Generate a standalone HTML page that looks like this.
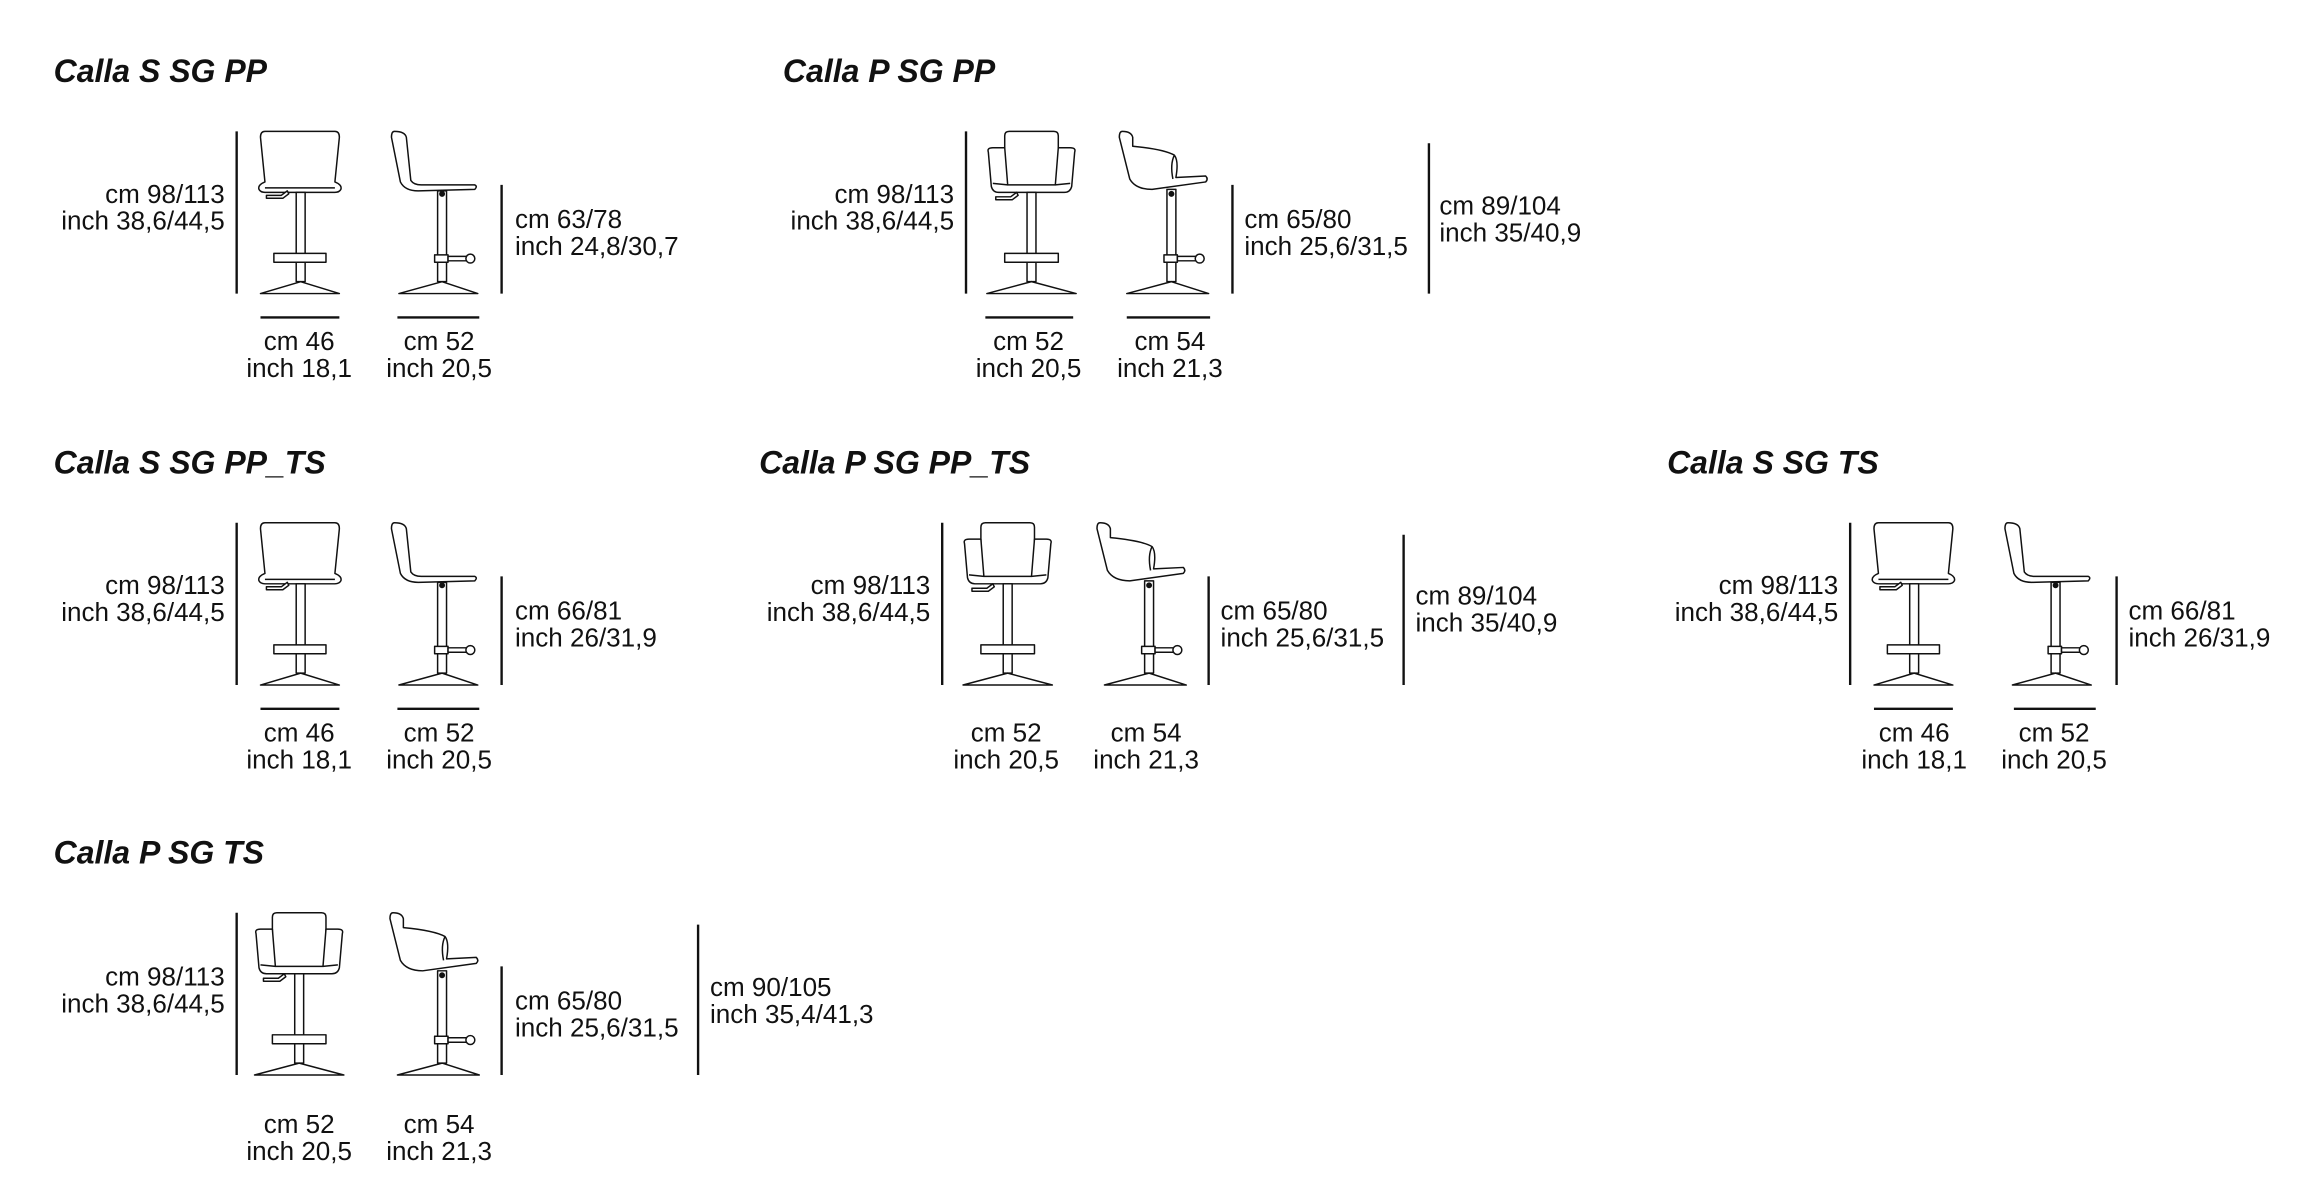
<!DOCTYPE html>
<html><head><meta charset="utf-8">
<style>
html,body{margin:0;padding:0;background:#fff;}
svg{display:block}
.t{font-family:"Liberation Sans",sans-serif;font-weight:bold;font-style:italic;font-size:21.5px;fill:#111}
.l{font-family:"Liberation Sans",sans-serif;font-size:17.5px;fill:#111}
.r{text-anchor:end}.c{text-anchor:middle}
.d{stroke:#111;stroke-width:1.6;fill:none}
.ch{stroke:#111;stroke-width:1;fill:#fff;stroke-linejoin:round}
</style></head><body>
<svg width="2322" height="1184" viewBox="0 0 1560 795" xmlns="http://www.w3.org/2000/svg">
<defs>
<g id="fs" class="ch">
  <path d="M3,0 L50,0 Q53,0 53,4 L50,34 Q55,36 54,39 Q53,41 50,41 L3,41 Q0,41 -1,39 Q-2,36 3,34 L0,4 Q0,0 3,0 Z"/>
  <path d="M3,38 L50,38"/>
  <rect x="24" y="41" width="6" height="60"/>
  <path d="M4,43 L14,43 L18,40 L19,42 L15,45 L4,45 Z"/>
  <rect x="9" y="82" width="35" height="6"/>
  <path d="M0,109 L27,101 L53,109 Z"/>
</g>
<g id="ss" class="ch">
  <path d="M2,0 Q9,0 10,4 L13,33 Q15,36 20,36 L56,36 Q58,37 56,39 L18,40 Q9,40 6,34 L0,4 Q0,0 2,0 Z"/>
  <rect x="31" y="40" width="6" height="61"/>
  <circle cx="34" cy="42" r="1.5" fill="#111"/>
  <rect x="29" y="83" width="9" height="5"/>
  <rect x="38" y="84" width="13" height="3"/>
  <circle cx="53" cy="85.5" r="3"/>
  <path d="M5,109 L34,101 L58,109 Z"/>
</g>
<g id="fp" class="ch">
  <path d="M12,14 L12,3 Q12,0 15,0 L45,0 Q48,0 48,3 L48,14"/>
  <path d="M1,14 Q0,11 4,11 L12,11 L14,36 L46,36 L48,11 L56,11 Q60,11 59,14 L57,37 Q56,41 52,41 L8,41 Q4,41 3,37 Z"/>
  <path d="M4,35 L14,36 M46,36 L56,35"/>
  <rect x="27" y="41" width="6" height="60"/>
  <path d="M6,44 L16,44 L20,41 L21,43 L17,46 L6,46 Z"/>
  <rect x="12" y="82" width="36" height="6"/>
  <path d="M0,109 L30,101 L60,109 Z"/>
</g>
<g id="sp" class="ch">
  <path d="M2,0 Q8,0 9,4 L9,10 Q30,12 37,16 Q40,20 38,31 L58,30 Q60,32 58,34 L22,39 Q11,39 7,32 L0,4 Q0,0 2,0 Z"/>
  <path d="M37,16 Q34,22 36,32"/>
  <rect x="32" y="39" width="6" height="62"/>
  <circle cx="35" cy="42" r="1.5" fill="#111"/>
  <rect x="30" y="83" width="9" height="5"/>
  <rect x="39" y="84" width="13" height="3"/>
  <circle cx="54" cy="85.5" r="3"/>
  <path d="M5,109 L35,101 L60,109 Z"/>
</g>
</defs>

<!-- Section 1 -->
<text class="t" x="36" y="55">Calla S SG PP</text>
<line class="d" x1="159" y1="88" x2="159" y2="197"/>
<text class="l r" x="151" y="136">cm 98/113</text>
<text class="l r" x="151" y="154">inch 38,6/44,5</text>
<use href="#fs" x="175" y="88"/>
<use href="#ss" x="263" y="88"/>
<line class="d" x1="337" y1="124" x2="337" y2="197"/>
<text class="l" x="346" y="153">cm 63/78</text>
<text class="l" x="346" y="171">inch 24,8/30,7</text>
<line class="d" x1="175" y1="213" x2="228" y2="213"/>
<line class="d" x1="267" y1="213" x2="322" y2="213"/>
<text class="l c" x="201" y="235">cm 46</text><text class="l c" x="201" y="253">inch 18,1</text>
<text class="l c" x="295" y="235">cm 52</text><text class="l c" x="295" y="253">inch 20,5</text>

<!-- Section 2 -->
<text class="t" x="526" y="55">Calla P SG PP</text>
<line class="d" x1="649" y1="88" x2="649" y2="197"/>
<text class="l r" x="641" y="136">cm 98/113</text>
<text class="l r" x="641" y="154">inch 38,6/44,5</text>
<use href="#fp" x="663" y="88"/>
<use href="#sp" x="752" y="88"/>
<line class="d" x1="828" y1="124" x2="828" y2="197"/>
<text class="l" x="836" y="153">cm 65/80</text>
<text class="l" x="836" y="171">inch 25,6/31,5</text>
<line class="d" x1="960" y1="96" x2="960" y2="197"/>
<text class="l" x="967" y="144">cm 89/104</text>
<text class="l" x="967" y="162">inch 35/40,9</text>
<line class="d" x1="662" y1="213" x2="721" y2="213"/>
<line class="d" x1="757" y1="213" x2="813" y2="213"/>
<text class="l c" x="691" y="235">cm 52</text><text class="l c" x="691" y="253">inch 20,5</text>
<text class="l c" x="786" y="235">cm 54</text><text class="l c" x="786" y="253">inch 21,3</text>

<!-- Section 3 -->
<text class="t" x="36" y="318">Calla S SG PP_TS</text>
<line class="d" x1="159" y1="351" x2="159" y2="460"/>
<text class="l r" x="151" y="399">cm 98/113</text>
<text class="l r" x="151" y="417">inch 38,6/44,5</text>
<use href="#fs" x="175" y="351"/>
<use href="#ss" x="263" y="351"/>
<line class="d" x1="337" y1="387" x2="337" y2="460"/>
<text class="l" x="346" y="416">cm 66/81</text>
<text class="l" x="346" y="434">inch 26/31,9</text>
<line class="d" x1="175" y1="476" x2="228" y2="476"/>
<line class="d" x1="267" y1="476" x2="322" y2="476"/>
<text class="l c" x="201" y="498">cm 46</text><text class="l c" x="201" y="516">inch 18,1</text>
<text class="l c" x="295" y="498">cm 52</text><text class="l c" x="295" y="516">inch 20,5</text>

<!-- Section 4 -->
<text class="t" x="510" y="318">Calla P SG PP_TS</text>
<line class="d" x1="633" y1="351" x2="633" y2="460"/>
<text class="l r" x="625" y="399">cm 98/113</text>
<text class="l r" x="625" y="417">inch 38,6/44,5</text>
<use href="#fp" x="647" y="351"/>
<use href="#sp" x="737" y="351"/>
<line class="d" x1="812" y1="387" x2="812" y2="460"/>
<text class="l" x="820" y="416">cm 65/80</text>
<text class="l" x="820" y="434">inch 25,6/31,5</text>
<line class="d" x1="943" y1="359" x2="943" y2="460"/>
<text class="l" x="951" y="406">cm 89/104</text>
<text class="l" x="951" y="424">inch 35/40,9</text>
<text class="l c" x="676" y="498">cm 52</text><text class="l c" x="676" y="516">inch 20,5</text>
<text class="l c" x="770" y="498">cm 54</text><text class="l c" x="770" y="516">inch 21,3</text>

<!-- Section 5 -->
<text class="t" x="1120" y="318">Calla S SG TS</text>
<line class="d" x1="1243" y1="351" x2="1243" y2="460"/>
<text class="l r" x="1235" y="399">cm 98/113</text>
<text class="l r" x="1235" y="417">inch 38,6/44,5</text>
<use href="#fs" x="1259" y="351"/>
<use href="#ss" x="1347" y="351"/>
<line class="d" x1="1422" y1="387" x2="1422" y2="460"/>
<text class="l" x="1430" y="416">cm 66/81</text>
<text class="l" x="1430" y="434">inch 26/31,9</text>
<line class="d" x1="1259" y1="476" x2="1312" y2="476"/>
<line class="d" x1="1353" y1="476" x2="1408" y2="476"/>
<text class="l c" x="1286" y="498">cm 46</text><text class="l c" x="1286" y="516">inch 18,1</text>
<text class="l c" x="1380" y="498">cm 52</text><text class="l c" x="1380" y="516">inch 20,5</text>

<!-- Section 6 -->
<text class="t" x="36" y="580">Calla P SG TS</text>
<line class="d" x1="159" y1="613" x2="159" y2="722"/>
<text class="l r" x="151" y="662">cm 98/113</text>
<text class="l r" x="151" y="680">inch 38,6/44,5</text>
<use href="#fp" x="171" y="613"/>
<use href="#sp" x="262" y="613"/>
<line class="d" x1="337" y1="649" x2="337" y2="722"/>
<text class="l" x="346" y="678">cm 65/80</text>
<text class="l" x="346" y="696">inch 25,6/31,5</text>
<line class="d" x1="469" y1="621" x2="469" y2="722"/>
<text class="l" x="477" y="669">cm 90/105</text>
<text class="l" x="477" y="687">inch 35,4/41,3</text>
<text class="l c" x="201" y="761">cm 52</text><text class="l c" x="201" y="779">inch 20,5</text>
<text class="l c" x="295" y="761">cm 54</text><text class="l c" x="295" y="779">inch 21,3</text>
</svg>
</body></html>
